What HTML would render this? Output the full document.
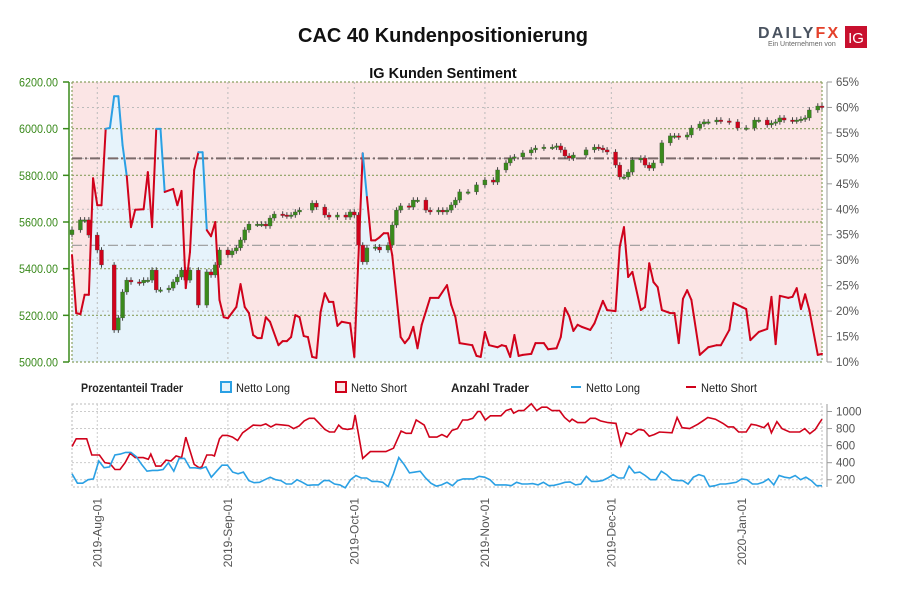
<!DOCTYPE html>
<html><head><meta charset="utf-8">
<style>
body{margin:0;background:#fff;width:900px;height:600px;overflow:hidden;font-family:"Liberation Sans",sans-serif;}
svg{display:block}
</style></head>
<body>
<svg id="chart" width="900" height="600" xmlns="http://www.w3.org/2000/svg">
<text x="443" y="42" text-anchor="middle" font-size="20" font-weight="bold" fill="#111">CAC 40 Kundenpositionierung</text>
<text x="443" y="78" text-anchor="middle" font-size="14.5" font-weight="bold" fill="#111">IG Kunden Sentiment</text>
<g>
<text x="758" y="38" font-size="16" font-weight="bold" fill="#4a5360" letter-spacing="2.2">DAILY<tspan fill="#e4402a">FX</tspan></text>
<rect x="845" y="26" width="22" height="22" fill="#c8102e"/>
<text x="856" y="43" text-anchor="middle" font-size="15" fill="#fff">IG</text>
<text x="768" y="46" font-size="7" fill="#666">Ein Unternehmen von</text>
</g>
<g id="main"></g>
<g id="legend" font-size="12" fill="#222">
<text x="81" y="392" font-weight="bold" textLength="102" lengthAdjust="spacingAndGlyphs">Prozentanteil Trader</text>
<rect x="221" y="382" width="10" height="10" fill="#e6f3fb" stroke="#2aa0e4" stroke-width="2"/>
<text x="236" y="392" textLength="54" lengthAdjust="spacingAndGlyphs">Netto Long</text>
<rect x="336" y="382" width="10" height="10" fill="#fbe5e5" stroke="#d0021b" stroke-width="2"/>
<text x="351" y="392" textLength="56" lengthAdjust="spacingAndGlyphs">Netto Short</text>
<text x="451" y="392" font-weight="bold" textLength="78" lengthAdjust="spacingAndGlyphs">Anzahl Trader</text>
<line x1="571" y1="387" x2="581" y2="387" stroke="#2aa0e4" stroke-width="2"/>
<text x="586" y="392" textLength="54" lengthAdjust="spacingAndGlyphs">Netto Long</text>
<line x1="686" y1="387" x2="696" y2="387" stroke="#d0021b" stroke-width="2"/>
<text x="701" y="392" textLength="56" lengthAdjust="spacingAndGlyphs">Netto Short</text>
</g>
<g id="bottom"></g>
</svg>
<script>
// ---- data ----
const monthLabels = ["2019-Aug-01","2019-Sep-01","2019-Oct-01","2019-Nov-01","2019-Dec-01","2020-Jan-01"];
const monthDays = [6,37,67,98,128,159];
const priceTicks = [5000,5200,5400,5600,5800,6000,6200];
const pctTicks = [10,15,20,25,30,35,40,45,50,55,60,65];
const countTicks = [200,400,600,800,1000];

const sentDays = [0,1,2,3,4,5,6,7,8,9,10,11,12,13,14,15,17,18,19,20,21,22,24,25,26,27,28,29,30,31,32,33,34,35,36,37,39,40,41,42,43,44,45,46,47,49,50,51,52,53,54,55,56,57,58,59,60,61,62,63,64,66,67,69,70,71,72,73,74,75,76,78,79,80,81,82,83,85,87,89,90,91,92,95,96,97,98,99,101,102,103,104,105,106,107,109,110,112,113,115,116,117,118,119,120,121,123,124,126,127,129,130,131,132,133,135,136,137,138,139,140,142,143,144,145,146,147,149,151,153,154,156,157,160,161,163,165,166,167,168,170,171,172,173,174,175,177,178];
const sentLong = [31,19.6,19.4,23.2,23.2,46.1,40.8,40.8,55.8,56,62.2,62.2,52.6,46.5,36.5,39.9,40,47.3,36.5,55.8,55.8,43.4,44,40.8,43.6,24.5,31.6,47.7,51.2,51.2,35.9,34.7,37.5,22.2,18.8,18.6,20.8,25.3,20.8,19.6,15.3,14.7,14.7,18.8,17.9,13.3,14.1,14.1,14.9,19.2,18.8,15.1,14.9,11,10.8,19.8,23.5,21.8,21.8,17.1,17.9,17.6,11,51,42.4,33.9,33.9,34.5,35.3,35.3,31,14.9,13.7,14.7,16.9,12.7,17.3,22.6,22.6,25.1,21.2,18.8,13.7,13.3,11.2,11,15.9,13.3,12.9,13.3,13.1,11,15.3,11.2,11.4,11.6,13.7,13.7,12.5,12.7,14.9,20.6,19,16.1,17.3,16.9,16.3,17.6,22,20.2,20,32.6,36.5,26.7,27.7,20.2,20.8,29.4,25.7,24.7,20.2,19.6,19.6,13.7,22.4,24.1,22.2,11.4,12.9,13.3,13.3,16.3,21.6,20.4,14.3,15.9,16.5,22.8,13.5,23,22.6,22.8,24.5,20.4,23.3,20.2,11.4,11.6];

const candleDays = [0,2,3,4,6,7,10,11,12,13,14,16,17,18,19,20,21,23,24,25,26,27,28,30,32,33,34,35,37,38,39,40,41,42,44,45,46,47,48,50,51,52,53,54,57,58,60,61,63,65,66,67,68,69,70,72,73,75,76,77,78,80,81,82,84,85,87,88,89,90,91,92,94,96,98,100,101,103,104,105,107,109,110,112,114,115,116,117,118,119,122,124,125,126,127,129,130,131,132,133,135,136,137,138,140,142,143,144,146,147,149,150,151,153,154,156,158,160,162,163,165,166,167,168,169,171,172,173,174,175,177,178];
const candleClose = [5566,5609,5609,5544,5480,5416,5137,5189,5300,5351,5343,5339,5351,5351,5394,5309,5309,5317,5343,5364,5394,5351,5394,5244,5386,5373,5416,5480,5459,5476,5489,5523,5566,5591,5591,5591,5583,5617,5634,5630,5626,5630,5643,5651,5681,5664,5630,5621,5630,5621,5643,5630,5501,5429,5489,5493,5480,5501,5587,5651,5669,5664,5694,5694,5651,5643,5651,5643,5651,5673,5694,5729,5729,5759,5780,5771,5823,5853,5874,5879,5896,5909,5917,5921,5921,5926,5909,5883,5874,5887,5909,5921,5917,5909,5900,5844,5793,5793,5814,5866,5874,5844,5831,5853,5939,5969,5969,5964,5973,6003,6020,6029,6029,6037,6033,6029,6003,6003,6037,6037,6016,6024,6029,6046,6037,6033,6037,6041,6046,6080,6097,6093];

const shortDays = [0,1,3.5,4.7,6.5,7.8,9,10.2,11.4,12.6,13.8,15,16.9,18.1,18.7,19.9,21.1,22.3,23.5,24.7,26,27,29,30.2,30.8,32,33.2,33.8,35,35.7,36.9,38.1,39.3,40.5,43,44.8,46,47.2,48.4,50.2,51.4,52.6,53.9,55.1,56.3,57.5,58.7,60,61.1,62.3,63.3,64.2,65.4,66.6,67.2,69,70.8,74.5,76.3,78.1,79.3,80.5,81.7,83.6,84.8,86.6,87.8,89,90.2,91.5,92.7,93.9,95.1,96.3,96.9,98.1,99.3,101.8,103,104.2,104.8,106,107.2,109,110.3,111.5,112.7,113.9,115.7,116.9,118.1,118.7,120,121.8,123,124.2,125.4,127.2,129.1,130.3,131.5,132.7,134.5,135.7,137,138.2,139.4,142.4,143.6,144.8,146.6,148.5,149.7,150.9,152.7,154.5,155.7,157,158.2,160,161.2,162.4,164.2,165.2,166,167.3,168.5,170.3,172.7,173.9,175.1,176.4,177.3,178];
const shortCount = [590,680,680,490,490,400,390,320,320,400,510,460,460,440,500,360,360,430,420,480,460,700,380,340,350,490,490,480,680,720,720,700,660,750,840,835,855,820,850,840,835,800,830,890,920,920,860,790,760,760,840,800,790,800,960,450,530,530,570,770,745,745,900,840,700,700,730,700,780,800,900,900,920,1000,1000,900,950,950,1010,1030,980,1010,1010,1090,1010,1050,1050,1010,1010,930,880,910,870,870,920,920,890,870,860,600,750,730,790,780,710,730,760,750,930,810,800,850,890,930,910,860,820,820,760,760,850,840,810,860,750,880,800,760,760,800,740,790,860,910,910];
const longCount = [270,160,160,200,210,420,340,350,490,500,520,520,470,380,300,310,310,320,400,300,450,450,340,340,330,350,230,300,370,370,290,270,290,190,165,170,200,230,200,190,150,150,200,170,135,140,140,190,190,150,140,105,200,250,220,220,180,180,170,120,270,460,380,280,290,300,220,160,125,140,170,130,190,210,210,210,240,230,200,140,140,140,130,170,150,150,155,140,170,130,135,150,170,175,140,150,240,180,180,190,220,260,220,220,360,280,290,250,200,200,300,260,200,190,190,150,230,260,240,120,130,150,150,160,170,210,200,150,150,170,210,140,250,230,220,250,200,230,190,130,130];

// ---- scales ----
const X0=72, X1=822, D1=178;
const xS = d => X0 + d*(X1-X0)/D1;
const yP = p => 362 - (p-5000)*(280/1200);
const yPct = v => 362 - (v-10)*(280/55);
const yC = v => 411.5 + (1000-v)*0.0853;
const NS="http://www.w3.org/2000/svg";
function mk(tag, attrs, parent){const e=document.createElementNS(NS,tag);for(const k in attrs)e.setAttribute(k,attrs[k]);parent.appendChild(e);return e;}
const main=document.getElementById('main'), bottom=document.getElementById('bottom');

let bg=mk('rect',{x:X0,y:82,width:X1-X0,height:280,fill:'#fbe5e5'},main);


let pts=sentDays.map((d,i)=>xS(d).toFixed(1)+','+yPct(sentLong[i]).toFixed(1));
let area=mk('polygon',{points:xS(0)+',362 '+pts.join(' ')+' '+xS(D1)+',362',fill:'#e6f3fb'},main);



pctTicks.forEach(v=>{ if(v%10===0 && v!==10){let l=mk('line',{x1:X0,x2:X1,y1:yPct(v),y2:yPct(v),stroke:'#bbb','stroke-dasharray':'2,3'},main);

}});
priceTicks.forEach(v=>{let l=mk('line',{x1:X0,x2:X1,y1:yP(v),y2:yP(v),stroke:'#8aa060','stroke-dasharray':'2,2','stroke-width':1.2},main);

});
monthDays.forEach(d=>{let l=mk('line',{x1:xS(d),x2:xS(d),y1:82,y2:362,stroke:'#bbb','stroke-dasharray':'2,3'},main);

});
let vb1=mk('line',{x1:X0,x2:X0,y1:82,y2:362,stroke:'#8aa060','stroke-dasharray':'2,2','stroke-width':1.2},main);


let vb2=mk('line',{x1:X1,x2:X1,y1:82,y2:362,stroke:'#8aa060','stroke-dasharray':'2,2','stroke-width':1.2},main);


let r50=mk('line',{x1:X0,x2:X1,y1:yPct(50),y2:yPct(50),stroke:'#7a6a6a','stroke-width':2,'stroke-dasharray':'10,3,2,3'},main);


let r55=mk('line',{x1:X0,x2:X1,y1:yP(5500),y2:yP(5500),stroke:'#999','stroke-width':1.2,'stroke-dasharray':'10,3,2,3'},main);



let prev=candleClose[0]-20;
candleDays.forEach((d,i)=>{
  const o=prev,c=candleClose[i];prev=c;
  const hi=Math.max(o,c)+12, lo=Math.min(o,c)-12;
  const x=xS(d), up=c>=o;
  let w=mk('line',{x1:x,x2:x,y1:yP(hi),y2:yP(lo),stroke:'#444','stroke-width':1},main);
  
  
  let top=yP(Math.max(o,c)),h=Math.max(1.5,Math.abs(yP(o)-yP(c)));
  let b=mk('rect',{x:x-2,y:top,width:4,height:h,fill:up?'#3a8a1c':'#d0021b',stroke:'#444','stroke-width':0.3},main);
  
  
});

for(let i=0;i<sentDays.length-1;i++){
  let s=mk('line',{x1:xS(sentDays[i]),y1:yPct(sentLong[i]),x2:xS(sentDays[i+1]),y2:yPct(sentLong[i+1]),stroke:sentLong[i]>50?'#2aa0e4':'#d0021b','stroke-width':2,'stroke-linecap':'round'},main);
  
  
}

let la=mk('line',{x1:69,x2:69,y1:82,y2:362,stroke:'#3a8a1c','stroke-width':1.5},main);


priceTicks.forEach(v=>{
  let t=mk('line',{x1:63,x2:69,y1:yP(v),y2:yP(v),stroke:'#3a8a1c','stroke-width':1.5},main);
  
  
  let tx=mk('text',{x:58,y:yP(v)+4.5,'text-anchor':'end','font-size':12,fill:'#3a8a1c',textLength:39,lengthAdjust:'spacingAndGlyphs'},main);
  tx.textContent=v.toFixed(2);
  
  
});
let ra=mk('line',{x1:827,x2:827,y1:82,y2:362,stroke:'#999','stroke-width':1},main);


pctTicks.forEach(v=>{
  let t=mk('line',{x1:827,x2:832,y1:yPct(v),y2:yPct(v),stroke:'#999'},main);
  
  
  let tx=mk('text',{x:836,y:yPct(v)+4,'font-size':11.5,fill:'#555'},main);
  tx.textContent=v+'%';
  
  
});

let bb=mk('rect',{x:X0,y:404,width:X1-X0,height:83,fill:'none',stroke:'#bbb','stroke-dasharray':'2,2'},bottom);


countTicks.forEach(v=>{
  let g=mk('line',{x1:X0,x2:X1,y1:yC(v),y2:yC(v),stroke:'#ccc','stroke-dasharray':'2,2'},bottom);
  
  
  let t=mk('line',{x1:827,x2:832,y1:yC(v),y2:yC(v),stroke:'#999'},bottom);
  
  
  let tx=mk('text',{x:836,y:yC(v)+4,'font-size':11.5,fill:'#555'},bottom);
  tx.textContent=v;
  
  
});
let rb=mk('line',{x1:827,x2:827,y1:404,y2:487,stroke:'#999'},bottom);


monthDays.forEach((d,i)=>{
  let g=mk('line',{x1:xS(d),x2:xS(d),y1:404,y2:487,stroke:'#ccc','stroke-dasharray':'2,2'},bottom);
  
  
  let tx=mk('text',{x:0,y:0,'text-anchor':'end','font-size':12,fill:'#555',transform:'translate('+(xS(d)+4)+',498) rotate(-90)'},bottom);
  tx.textContent=monthLabels[i];
  
  
});
let sp=mk('polyline',{points:shortDays.map((d,i)=>xS(d).toFixed(1)+','+yC(shortCount[i]).toFixed(1)).join(' '),fill:'none',stroke:'#d0021b','stroke-width':1.6},bottom);


let lp=mk('polyline',{points:longCount.map((v,i)=>xS(i*D1/(longCount.length-1)).toFixed(1)+','+yC(v).toFixed(1)).join(' '),fill:'none',stroke:'#2aa0e4','stroke-width':1.6},bottom);


</script>
</body></html>
